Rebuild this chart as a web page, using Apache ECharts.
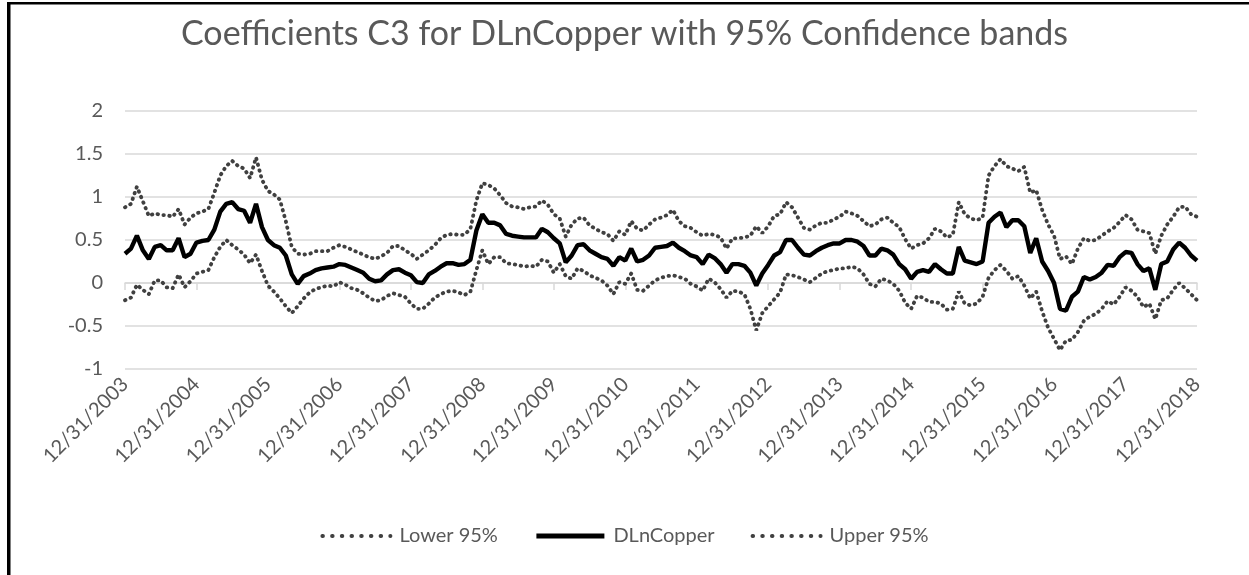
<!DOCTYPE html>
<html>
<head>
<meta charset="utf-8">
<title>Coefficients C3 for DLnCopper</title>
<script src="https://cdn.jsdelivr.net/npm/echarts@6/dist/echarts.min.js"></script>
<style>
  html, body { margin: 0; padding: 0; background: #fff; }
  #chart { width: 1249px; height: 575px; }
</style>
</head>
<body>
<div id="chart"></div>
<script>
// month-end dates, 12/31/2003 .. 12/31/2018 (one value per month)
const firstYear = 2003;
const monthCount = 181;
const yTicks = [-1, -0.5, 0, 0.5, 1, 1.5, 2];

// DLnCopper coefficient (C3)
const dlnCopper = [
  0.34, 0.40, 0.55, 0.38, 0.28, 0.42, 0.44, 0.38, 0.38, 0.52, 0.30, 0.34,
  0.47, 0.49, 0.50, 0.62, 0.83, 0.92, 0.94, 0.86, 0.84, 0.70, 0.92, 0.65,
  0.50, 0.44, 0.41, 0.32, 0.10, -0.01, 0.08, 0.11, 0.15, 0.17, 0.18, 0.19,
  0.22, 0.21, 0.18, 0.15, 0.12, 0.05, 0.02, 0.03, 0.10, 0.15, 0.16, 0.12,
  0.09, 0.01, 0.00, 0.10, 0.14, 0.19, 0.23, 0.23, 0.21, 0.22, 0.27, 0.61,
  0.80, 0.70, 0.70, 0.67, 0.57, 0.55, 0.54, 0.53, 0.53, 0.53, 0.63, 0.59,
  0.52, 0.46, 0.24, 0.32, 0.44, 0.45, 0.38, 0.34, 0.30, 0.28, 0.20, 0.30,
  0.26, 0.40, 0.25, 0.27, 0.32, 0.41, 0.42, 0.43, 0.47, 0.41, 0.37, 0.32,
  0.30, 0.22, 0.33, 0.29, 0.22, 0.12, 0.22, 0.22, 0.20, 0.12, -0.03, 0.11,
  0.21, 0.32, 0.36, 0.50, 0.50, 0.41, 0.33, 0.32, 0.37, 0.41, 0.44, 0.46,
  0.46, 0.50, 0.50, 0.48, 0.43, 0.32, 0.32, 0.40, 0.38, 0.33, 0.22, 0.16,
  0.05, 0.13, 0.15, 0.13, 0.22, 0.16, 0.11, 0.11, 0.42, 0.26, 0.24, 0.22,
  0.25, 0.70, 0.77, 0.82, 0.65, 0.73, 0.73, 0.66, 0.35, 0.52, 0.25, 0.14,
  0.00, -0.30, -0.32, -0.16, -0.10, 0.07, 0.04, 0.07, 0.12, 0.21, 0.20, 0.30,
  0.36, 0.35, 0.22, 0.14, 0.17, -0.08, 0.22, 0.25, 0.39, 0.47, 0.41, 0.32, 0.26
];

// upper 95% band
const upper95 = [
  0.88, 0.92, 1.12, 0.95, 0.78, 0.81, 0.79, 0.79, 0.77, 0.86, 0.68, 0.76,
  0.81, 0.83, 0.86, 1.05, 1.25, 1.36, 1.42, 1.36, 1.33, 1.22, 1.46, 1.20,
  1.07, 1.03, 0.97, 0.72, 0.42, 0.34, 0.33, 0.34, 0.37, 0.37, 0.37, 0.41,
  0.44, 0.42, 0.39, 0.36, 0.33, 0.30, 0.28, 0.31, 0.35, 0.43, 0.43, 0.38,
  0.34, 0.28, 0.33, 0.38, 0.44, 0.52, 0.56, 0.57, 0.56, 0.56, 0.63, 0.96,
  1.16, 1.14, 1.10, 1.02, 0.93, 0.89, 0.88, 0.86, 0.88, 0.89, 0.96, 0.91,
  0.80, 0.75, 0.54, 0.68, 0.75, 0.76, 0.67, 0.63, 0.59, 0.57, 0.49, 0.60,
  0.56, 0.72, 0.63, 0.61, 0.68, 0.74, 0.76, 0.79, 0.85, 0.72, 0.66, 0.64,
  0.59, 0.55, 0.57, 0.56, 0.53, 0.40, 0.52, 0.52, 0.53, 0.55, 0.66, 0.58,
  0.66, 0.78, 0.80, 0.94, 0.88, 0.76, 0.64, 0.62, 0.67, 0.70, 0.70, 0.74,
  0.77, 0.83, 0.81, 0.78, 0.72, 0.66, 0.68, 0.74, 0.76, 0.70, 0.65, 0.51,
  0.40, 0.44, 0.46, 0.52, 0.63, 0.60, 0.53, 0.56, 0.94, 0.80, 0.75, 0.73,
  0.76, 1.25, 1.36, 1.44, 1.36, 1.33, 1.30, 1.35, 1.05, 1.08, 0.85, 0.68,
  0.55, 0.28, 0.31, 0.22, 0.40, 0.52, 0.49, 0.50, 0.55, 0.60, 0.64, 0.71,
  0.79, 0.74, 0.62, 0.60, 0.58, 0.34, 0.55, 0.68, 0.77, 0.88, 0.89, 0.80, 0.77
];

// lower 95% band
const lower95 = [
  -0.20, -0.17, -0.02, -0.08, -0.13, 0.03, 0.03, -0.05, -0.06, 0.10, -0.05, 0.02,
  0.11, 0.13, 0.15, 0.30, 0.42, 0.50, 0.44, 0.39, 0.33, 0.23, 0.33, 0.14,
  -0.03, -0.10, -0.18, -0.27, -0.35, -0.27, -0.18, -0.11, -0.07, -0.05, -0.03, -0.04,
  0.01, -0.02, -0.06, -0.08, -0.12, -0.17, -0.21, -0.20, -0.15, -0.12, -0.14, -0.16,
  -0.24, -0.30, -0.30, -0.24, -0.17, -0.13, -0.10, -0.09, -0.11, -0.14, -0.10, 0.15,
  0.38, 0.22, 0.30, 0.30, 0.23, 0.22, 0.21, 0.19, 0.20, 0.19, 0.27, 0.25,
  0.12, 0.22, 0.08, 0.05, 0.17, 0.14, 0.09, 0.06, 0.03, -0.03, -0.13, 0.01,
  -0.01, 0.11, -0.08, -0.09, -0.03, 0.03, 0.06, 0.08, 0.09, 0.07, 0.05, -0.01,
  -0.04, -0.09, 0.05, 0.01, -0.07, -0.17, -0.09, -0.10, -0.13, -0.30, -0.55, -0.35,
  -0.27, -0.19, -0.11, 0.10, 0.09, 0.07, 0.04, 0.01, 0.06, 0.11, 0.14, 0.15,
  0.17, 0.17, 0.19, 0.17, 0.10, -0.01, -0.04, 0.05, 0.03, -0.01, -0.09, -0.23,
  -0.30, -0.15, -0.17, -0.22, -0.22, -0.24, -0.31, -0.30, -0.10, -0.24, -0.26, -0.24,
  -0.16, 0.06, 0.15, 0.21, 0.14, 0.05, 0.08, -0.03, -0.18, -0.10, -0.33, -0.52,
  -0.65, -0.78, -0.67, -0.66, -0.57, -0.44, -0.39, -0.36, -0.30, -0.21, -0.25, -0.16,
  -0.05, -0.09, -0.16, -0.28, -0.24, -0.42, -0.20, -0.18, -0.08, 0.00, -0.06, -0.13, -0.20
];

// category labels m/d/yyyy (month ends)
const dates = [];
for (let i = 0; i < monthCount; i++) {
  const t = firstYear * 12 + 11 + i;
  const y = Math.floor(t / 12);
  const m = (t % 12) + 1;
  const d = new Date(y, m, 0).getDate();
  dates.push(m + "/" + d + "/" + y);
}

const textColor = "#595959";
const gridColor = "#d9d9d9";
const bandColor = "#404040";
const font = "Lato, 'Open Sans', sans-serif";
const bandLegendLine = { width: 4, type: [0.5, 9.2], cap: "round", color: bandColor };
const noMarker = { opacity: 0 }; // legend: line only, no symbol

const chart = echarts.init(document.getElementById("chart"));

const option = {
  animation: false,
  textStyle: { fontFamily: font },
  title: {
    text: "Coefficients C3 for DLnCopper with 95% Confidence bands",
    left: "center",
    top: 12,
    textStyle: { fontFamily: font, fontSize: 34, fontWeight: "normal", color: textColor }
  },
  legend: {
    bottom: 24,
    left: "center",
    itemWidth: 68,
    itemHeight: 14,
    itemGap: 36,
    textStyle: { fontFamily: font, fontSize: 20, color: textColor, padding: [0, 0, 0, 4] },
    data: [
      { name: "Lower 95%", lineStyle: bandLegendLine, itemStyle: noMarker },
      { name: "DLnCopper", lineStyle: { width: 5, color: "#000" }, itemStyle: noMarker },
      { name: "Upper 95%", lineStyle: bandLegendLine, itemStyle: noMarker }
    ]
  },
  grid: { left: 125, right: 52, top: 111, bottom: 206 },
  xAxis: [
    {
      type: "category",
      data: dates,
      boundaryGap: false,
      axisLine: { show: false, onZero: false },
      axisTick: { show: false },
      splitLine: { show: false },
      axisLabel: {
        interval: 11,
        rotate: 45,
        margin: 12,
        fontSize: 20,
        color: textColor,
        fontFamily: font
      }
    },
    {
      type: "category",
      data: dates,
      boundaryGap: false,
      position: "bottom",
      axisLine: { show: true, onZero: true, lineStyle: { color: gridColor, width: 1.5 } },
      axisTick: { show: true, interval: 11, length: 7, lineStyle: { color: gridColor, width: 1.5 } },
      axisLabel: { show: false },
      splitLine: { show: false }
    }
  ],
  yAxis: {
    type: "value",
    min: yTicks[0],
    max: yTicks[yTicks.length - 1],
    interval: 0.5,
    axisLine: { show: false },
    axisTick: { show: false },
    splitLine: { lineStyle: { color: gridColor, width: 1.5 } },
    axisLabel: { margin: 22, fontSize: 20, color: textColor, fontFamily: font }
  },
  series: [
    {
      name: "Lower 95%",
      type: "line",
      data: lower95,
      symbol: "none",
      lineStyle: { width: 3.8, type: [0.5, 5.5], cap: "round", color: bandColor },
      itemStyle: { color: bandColor }
    },
    {
      name: "DLnCopper",
      type: "line",
      data: dlnCopper,
      symbol: "none",
      z: 3,
      lineStyle: { width: 4.4, color: "#000" },
      itemStyle: { color: "#000" }
    },
    {
      name: "Upper 95%",
      type: "line",
      data: upper95,
      symbol: "none",
      lineStyle: { width: 3.8, type: [0.5, 5.5], cap: "round", color: bandColor },
      itemStyle: { color: bandColor }
    }
  ],
  graphic: [
    // chart frame: only left and top edges are visible in the picture
    { type: "rect", left: 7, top: 2, shape: { width: 3.5, height: 573 }, style: { fill: "#000" }, silent: true },
    { type: "rect", left: 7, top: 2, shape: { width: 1242, height: 2.5 }, style: { fill: "#000" }, silent: true }
  ]
};

chart.setOption(option);
</script>
</body>
</html>
